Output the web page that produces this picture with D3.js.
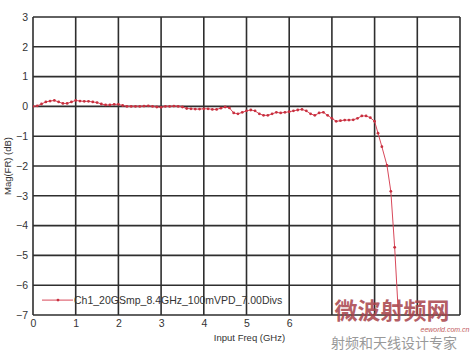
<!DOCTYPE html>
<html>
<head>
<meta charset="utf-8">
<script src="https://cdn.jsdelivr.net/npm/d3@7"></script>
<style>
  body { margin: 0; background: #fff; }
  svg { display: block; font-family: "Liberation Sans", Arial, sans-serif; }
</style>
</head>
<body>
<div id="chart"></div>
<script>
// frequency (GHz) and magnitude (dB)
var freq = [0.0, 0.1, 0.2, 0.3, 0.4, 0.5, 0.6, 0.7, 0.8, 0.9,
            1.0, 1.1, 1.2, 1.3, 1.4, 1.5, 1.6, 1.7, 1.8, 1.9,
            2.0, 2.1, 2.2, 2.3, 2.4, 2.5, 2.6, 2.7, 2.8, 2.9,
            3.0, 3.1, 3.2, 3.3, 3.4, 3.5, 3.6, 3.7, 3.8, 3.9,
            4.0, 4.1, 4.2, 4.3, 4.4, 4.5, 4.6, 4.7, 4.8, 4.9,
            5.0, 5.1, 5.2, 5.3, 5.4, 5.5, 5.6, 5.7, 5.8, 5.9,
            6.0, 6.1, 6.2, 6.3, 6.4, 6.5, 6.6, 6.7, 6.8, 6.9,
            7.0, 7.1, 7.2, 7.3, 7.4, 7.5, 7.6, 7.7, 7.8, 7.9,
            8.0, 8.08, 8.17, 8.29, 8.38, 8.47, 8.57];
var mag = [0.0, 0.02, 0.08, 0.15, 0.18, 0.2, 0.15, 0.1, 0.1, 0.15,
           0.2, 0.18, 0.17, 0.17, 0.15, 0.13, 0.08, 0.05, 0.05, 0.07,
           0.07, 0.03, 0.0, 0.0, 0.0, 0.0, 0.01, 0.02, 0.0, -0.02,
           -0.03, 0.0, 0.0, 0.01, 0.0, -0.02, -0.07, -0.08, -0.09, -0.09,
           -0.08, -0.08, -0.1, -0.1, -0.06, -0.02, -0.05, -0.22, -0.25, -0.2,
           -0.15, -0.12, -0.15, -0.25, -0.3, -0.3, -0.25, -0.2, -0.22, -0.2,
           -0.18, -0.15, -0.12, -0.1, -0.15, -0.25, -0.3, -0.22, -0.2, -0.3,
           -0.4, -0.5, -0.48, -0.46, -0.46, -0.45, -0.4, -0.32, -0.32, -0.38,
           -0.5, -0.9, -1.35, -1.98, -2.85, -4.73, -7.3];
var xGrid = [0, 1, 2, 3, 4, 5, 6, 7, 8, 9, 10];
var xTickLabels = [0, 1, 2, 3, 4, 5, 6];   // 7..10 are hidden under the watermark
var yTicks = [3, 2, 1, 0, -1, -2, -3, -4, -5, -6, -7];
var seriesName = "Ch1_20GSmp_8.4GHz_100mVPD_7.00Divs";

var data = freq.map(function(f, i) { return {f: f, m: mag[i]}; });

var margin = {top: 17, right: 15, bottom: 36, left: 33},
    width = 475 - margin.left - margin.right,
    height = 351 - margin.top - margin.bottom;

var svg = d3.select("#chart").append("svg")
    .attr("width", 475)
    .attr("height", 351);

var g = svg.append("g")
    .attr("transform", "translate(" + margin.left + "," + margin.top + ")");

var x = d3.scaleLinear().domain([0, 10]).range([0, width]);
var y = d3.scaleLinear().domain([-7, 3]).range([height, 0]);

g.append("defs").append("clipPath").attr("id", "clip")
  .append("rect").attr("width", width).attr("height", height);

// grid
g.append("g").selectAll("line").data(xGrid).enter().append("line")
    .attr("x1", function(d) { return x(d); })
    .attr("x2", function(d) { return x(d); })
    .attr("y1", 0).attr("y2", height)
    .style("stroke", "#2e2e2e").style("stroke-width", 1.6);
g.append("g").selectAll("line").data(yTicks).enter().append("line")
    .attr("y1", function(d) { return y(d); })
    .attr("y2", function(d) { return y(d); })
    .attr("x1", 0).attr("x2", width)
    .style("stroke", "#2e2e2e").style("stroke-width", 1.6);

// axes (labels only)
var xAxis = g.append("g")
    .attr("transform", "translate(0," + height + ")")
    .call(d3.axisBottom(x).tickValues(xTickLabels).tickSize(0).tickPadding(5).tickFormat(d3.format("d")));
var yAxis = g.append("g")
    .call(d3.axisLeft(y).tickValues(yTicks).tickSize(0).tickPadding(5).tickFormat(d3.format("d")));
[xAxis, yAxis].forEach(function(a) {
  a.select(".domain").remove();
  a.selectAll("text").style("font-size", "10.5px").style("fill", "#333")
    .style("font-family", "Liberation Sans, Arial, sans-serif");
});

// line + markers
var line = d3.line().x(function(d) { return x(d.f); }).y(function(d) { return y(d.m); });
var plot = g.append("g").attr("clip-path", "url(#clip)");
plot.append("path").datum(data)
    .attr("d", line)
    .style("fill", "none")
    .style("stroke", "#d8485a")
    .style("stroke-width", 1);
plot.selectAll("circle").data(data).enter().append("circle")
    .attr("cx", function(d) { return x(d.f); })
    .attr("cy", function(d) { return y(d.m); })
    .attr("r", 1.4)
    .style("fill", "#c8303f");

// legend
var leg = g.append("g").attr("transform", "translate(0," + y(-6.5) + ")");
leg.append("line").attr("x1", 9).attr("x2", 40).attr("y1", 0).attr("y2", 0)
    .style("stroke", "#d8485a").style("stroke-width", 1);
leg.append("circle").attr("cx", 25).attr("cy", 0).attr("r", 1.4).style("fill", "#c8303f");
leg.append("text").attr("x", 41).attr("y", 4)
    .style("font-size", "10.5px").style("fill", "#333")
    .text(seriesName);

// axis titles
svg.append("text")
    .attr("x", margin.left + width / 2 + 3).attr("y", 341)
    .attr("text-anchor", "middle")
    .style("font-size", "9.5px").style("fill", "#333")
    .text("Input Freq (GHz)");
svg.append("text")
    .attr("transform", "translate(11," + (margin.top + height / 2) + ") rotate(-90)")
    .attr("text-anchor", "middle")
    .style("font-size", "9.5px").style("fill", "#333")
    .text("Mag(FR) (dB)");

// site watermark
svg.append("text").attr("x", 392).attr("y", 319).attr("text-anchor", "middle")
    .style("font-family", "Noto Sans CJK SC").style("font-weight", "bold")
    .style("font-size", "23px").style("fill", "#a8424a").style("opacity", 0.85)
    .text("微波射频网");
svg.append("text").attr("x", 445).attr("y", 332).attr("text-anchor", "middle")
    .style("font-size", "7px").style("fill", "#c25a60").style("font-style", "italic")
    .text("eeworld.com.cn");
svg.append("text").attr("x", 394).attr("y", 348).attr("text-anchor", "middle")
    .style("font-family", "Noto Sans CJK SC")
    .style("font-size", "14px").style("fill", "#999")
    .text("射频和天线设计专家");
</script>
</body>
</html>
